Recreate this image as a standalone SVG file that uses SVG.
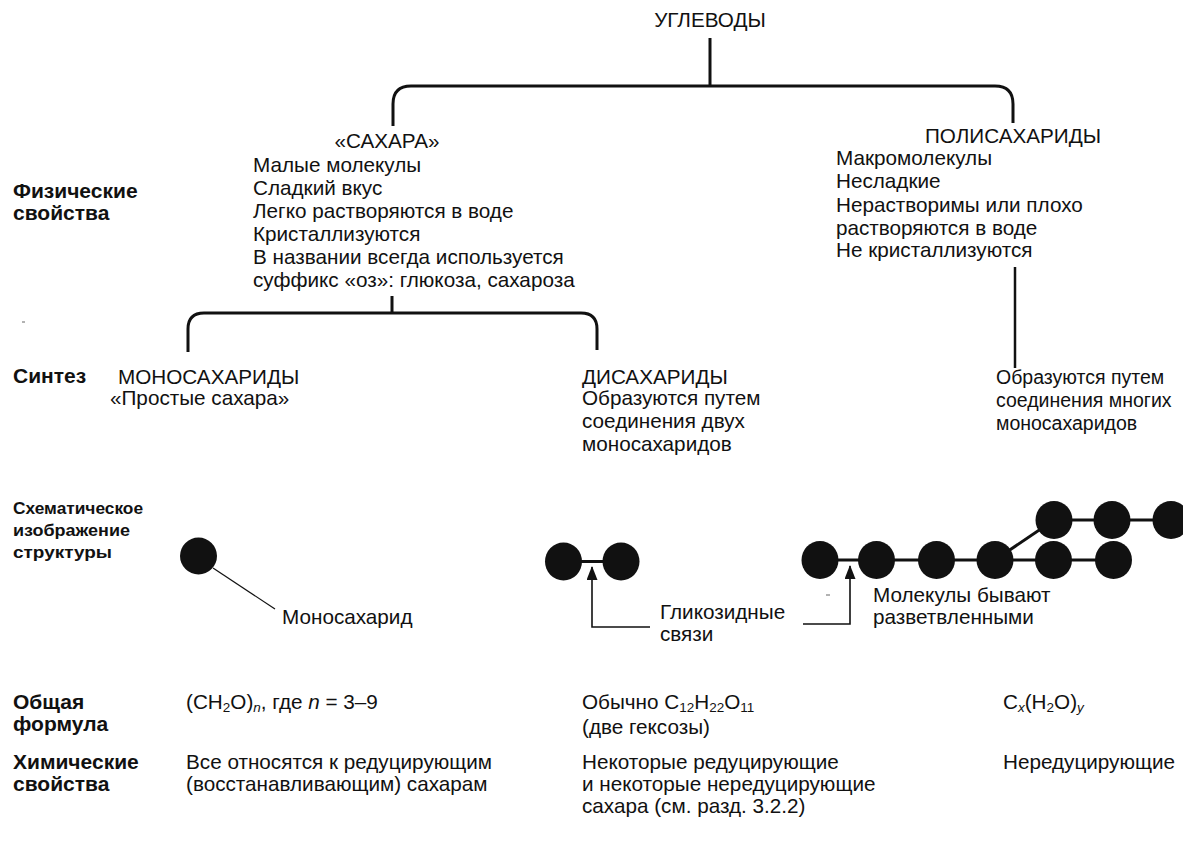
<svg xmlns="http://www.w3.org/2000/svg" width="1183" height="848" viewBox="0 0 1183 848">
<style>
text{font-family:"Liberation Sans",Arial,sans-serif;fill:#111;}
.t{font-size:20.7px;}
.s{font-size:19.5px;}
.b{font-size:21px;font-weight:bold;}
.bc{font-size:16px;font-weight:bold;}
.sub{font-size:13.5px;}
.br{fill:none;stroke:#111;stroke-width:3;stroke-linecap:butt;}
.ar{fill:none;stroke:#111;stroke-width:1.6;}
.bond{stroke:#111;stroke-width:3;}
.mol{fill:#111;}
</style>
<defs>
<marker id="ah" markerUnits="userSpaceOnUse" viewBox="0 0 14 11" refX="13" refY="5.5" markerWidth="14" markerHeight="11" orient="auto">
<path d="M0,0 L14,5.5 L0,11 z" fill="#111"/>
</marker>
</defs>
<rect width="1183" height="848" fill="#fff"/>

<g id="connectors">
<path class="br" d="M710,38 V86"/>
<path class="br" d="M393,126 V104 Q393,86 411,86 H995 Q1013,86 1013,104 V123"/>
<path class="br" d="M392,296 V313"/>
<path class="br" d="M188,352 V329 Q188,313 204,313 H581 Q597,313 597,329 V350"/>
<path class="br" d="M1015,267 V368" style="stroke-width:2.5"/>
<path class="ar" d="M650,627 H592 V567" marker-end="url(#ah)"/>
<path class="ar" d="M803,624 H850 V566" marker-end="url(#ah)"/>
<path class="ar" d="M213,568 L275,609" style="stroke-width:1.2"/>
<path d="M22,322 H25" stroke="#666" stroke-width="1"/>
<path d="M826,595 H830" stroke="#666" stroke-width="1"/>
</g>

<g id="n-root"><text class="t" x="710" y="27" text-anchor="middle">УГЛЕВОДЫ</text></g>

<g id="n-sugars">
<text class="t" x="387" y="148" text-anchor="middle">«САХАРА»</text>
<text class="t" x="253" y="172">Малые молекулы</text>
<text class="t" x="253" y="195">Сладкий вкус</text>
<text class="t" x="253" y="218">Легко растворяются в воде</text>
<text class="t" x="253" y="241">Кристаллизуются</text>
<text class="t" x="253" y="264">В названии всегда используется</text>
<text class="t" x="253" y="287">суффикс «оз»: глюкоза, сахароза</text>
</g>

<g id="n-poly">
<text class="t" x="925" y="143">ПОЛИСАХАРИДЫ</text>
<text class="t" x="836" y="165">Макромолекулы</text>
<text class="t" x="836" y="188">Несладкие</text>
<text class="t" x="836" y="212">Нерастворимы или плохо</text>
<text class="t" x="836" y="235">растворяются в воде</text>
<text class="t" x="836" y="257">Не кристаллизуются</text>
<text class="s" x="996" y="384">Образуются путем</text>
<text class="s" x="996" y="407">соединения многих</text>
<text class="s" x="996" y="430">моносахаридов</text>
</g>

<g id="n-mono">
<text class="t" x="118" y="384">МОНОСАХАРИДЫ</text>
<text class="t" x="110" y="405">«Простые сахара»</text>
</g>

<g id="n-di">
<text class="t" x="582" y="384">ДИСАХАРИДЫ</text>
<text class="t" x="582" y="405">Образуются путем</text>
<text class="t" x="582" y="428">соединения двух</text>
<text class="t" x="582" y="451">моносахаридов</text>
</g>

<g id="labels">
<text class="b" x="13" y="198">Физические</text>
<text class="b" x="13" y="220">свойства</text>
<text class="b" x="13" y="383">Синтез</text>
<text class="bc" x="13" y="514" textLength="130" lengthAdjust="spacingAndGlyphs">Схематическое</text>
<text class="bc" x="13" y="536" textLength="117" lengthAdjust="spacingAndGlyphs">изображение</text>
<text class="bc" x="13" y="558" textLength="99" lengthAdjust="spacingAndGlyphs">структуры</text>
<text class="b" x="13" y="709">Общая</text>
<text class="b" x="13" y="731">формула</text>
<text class="b" x="13" y="769">Химические</text>
<text class="b" x="13" y="791">свойства</text>
</g>

<g id="struct-mono">
<circle class="mol" cx="198.5" cy="556" r="18.5"/>
<text class="t" x="282" y="624">Моносахарид</text>
</g>

<g id="struct-di">
<line class="bond" x1="564" y1="561.5" x2="621" y2="561.5"/>
<ellipse class="mol" cx="563.5" cy="561.5" rx="18.5" ry="19"/>
<ellipse class="mol" cx="621" cy="561.5" rx="18.5" ry="19"/>
<text class="t" x="660" y="619">Гликозидные</text>
<text class="t" x="660" y="641">связи</text>
</g>

<g id="struct-poly">
<line class="bond" x1="820" y1="560" x2="1113" y2="560"/>
<line class="bond" x1="995" y1="560" x2="1054" y2="520"/>
<line class="bond" x1="1054" y1="520" x2="1175" y2="520"/>
<ellipse class="mol" cx="820" cy="560" rx="18.5" ry="19"/>
<ellipse class="mol" cx="876.5" cy="560" rx="18.5" ry="19"/>
<ellipse class="mol" cx="936.5" cy="560" rx="18.5" ry="19"/>
<ellipse class="mol" cx="995" cy="560" rx="18.5" ry="19"/>
<ellipse class="mol" cx="1053.5" cy="560" rx="18.5" ry="19"/>
<ellipse class="mol" cx="1113.5" cy="560" rx="18.5" ry="19"/>
<ellipse class="mol" cx="1054" cy="520" rx="18.5" ry="19"/>
<ellipse class="mol" cx="1112" cy="520" rx="18.5" ry="19"/>
<ellipse class="mol" cx="1171" cy="520" rx="18.5" ry="19"/>
<text class="t" x="873" y="602">Молекулы бывают</text>
<text class="t" x="873" y="624">разветвленными</text>
</g>

<g id="formulas">
<text class="t" x="186" y="709">(CH<tspan class="sub" dy="3">2</tspan><tspan dy="-3">O)</tspan><tspan class="sub" dy="3" font-style="italic">n</tspan><tspan dy="-3">, где </tspan><tspan font-style="italic">n</tspan> = 3–9</text>
<text class="t" x="582" y="709">Обычно C<tspan class="sub" dy="3">12</tspan><tspan dy="-3">H</tspan><tspan class="sub" dy="3">22</tspan><tspan dy="-3">O</tspan><tspan class="sub" dy="3">11</tspan></text>
<text class="t" x="582" y="734">(две гексозы)</text>
<text class="t" x="1003" y="709">C<tspan class="sub" dy="3" font-style="italic">x</tspan><tspan dy="-3">(H</tspan><tspan class="sub" dy="3">2</tspan><tspan dy="-3">O)</tspan><tspan class="sub" dy="3" font-style="italic">y</tspan></text>
</g>

<g id="chem">
<text class="t" x="186" y="769">Все относятся к редуцирующим</text>
<text class="t" x="186" y="791">(восстанавливающим) сахарам</text>
<text class="t" x="582" y="769">Некоторые редуцирующие</text>
<text class="t" x="582" y="791">и некоторые нередуцирующие</text>
<text class="t" x="582" y="813">сахара (см. разд. 3.2.2)</text>
<text class="t" x="1003" y="769">Нередуцирующие</text>
</g>
</svg>
